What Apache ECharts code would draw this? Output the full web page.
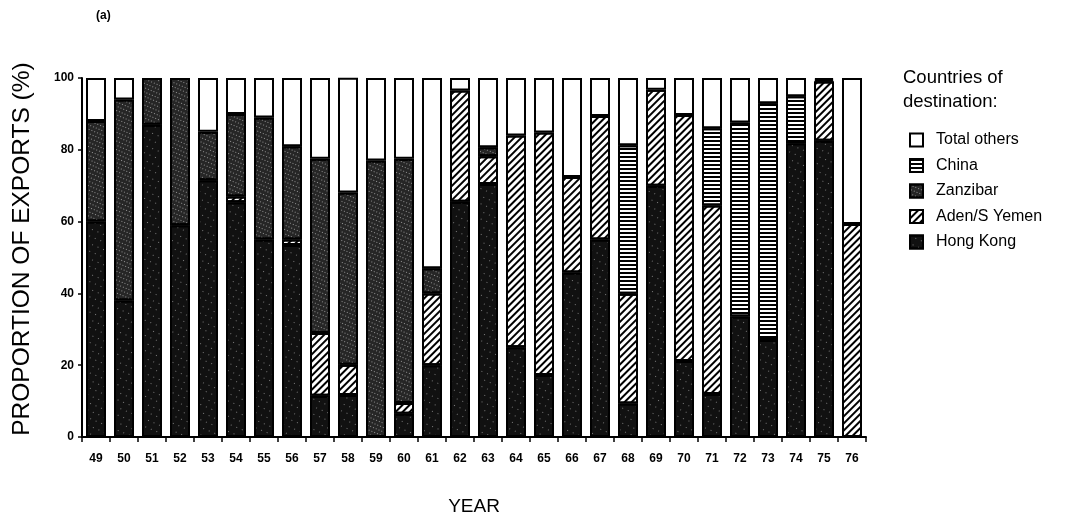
<!DOCTYPE html>
<html>
<head>
<meta charset="utf-8">
<script src="https://cdn.jsdelivr.net/npm/echarts@6/dist/echarts.min.js"></script>
<style>
html,body{margin:0;padding:0;background:#fff;}
#chart{width:1073px;height:526px;}
</style>
</head>
<body>
<div id="chart"></div>
<script>
var years = ['49','50','51','52','53','54','55','56','57','58','59','60','61','62','63','64','65','66','67','68','69','70','71','72','73','74','75','76'];
var hongKong = [60, 38, 87, 59, 71.5, 65.4, 55, 53.5, 11.5, 11.7, 0, 6.5, 20, 65.5, 70.5, 25, 17.3, 45.8, 55, 9.3, 70, 21.2, 12, 33.6, 27, 81.8, 82.5, 0];
var adenYemen = [0, 0, 0, 0, 0, 1.6, 0, 1.5, 17.5, 8.4, 0, 3, 20, 31, 7.7, 59, 67.5, 26.6, 34.4, 30.6, 26.7, 68.5, 52.5, 0, 0, 0, 16.5, 59.3];
var zanzibar = [28, 56, 13, 41, 13.5, 23, 34, 26, 48.5, 48, 77, 68, 7, 0, 2.5, 0, 0, 0, 0, 0, 0, 0, 0, 0, 0, 0, 0, 0];
var china = [0, 0, 0, 0, 0, 0, 0, 0, 0, 0, 0, 0, 0, 0, 0, 0, 0, 0, 0, 41.4, 0, 0, 21.5, 54, 66, 13.1, 0.5, 0];
var totalOthers = [12, 6, 0, 0, 15, 10, 11, 19, 22.5, 32, 23, 22.5, 53, 3.5, 19.3, 16, 15.2, 27.6, 10.6, 18.7, 3.3, 10.3, 14, 12.4, 7, 5.1, 0.5, 40.7];
var yTicks = [0, 20, 40, 60, 80, 100];
var legendOrder = ['Total others', 'China', 'Zanzibar', 'Aden/S Yemen', 'Hong Kong'];

var FONT = '"Liberation Sans", Arial, Helvetica, sans-serif';
function nz(arr){ return arr.map(function(v){ return v === 0 ? '-' : v; }); }
function mk(name, data, color, decal){
  var s = {
    name: name, type: 'bar', stack: 'total', data: nz(data),
    barWidth: 20,
    itemStyle: { color: color, borderColor: '#000', borderWidth: 2 }
  };
  if (decal) s.itemStyle.decal = decal;
  return s;
}
var chart = echarts.init(document.getElementById('chart'), null, {renderer: 'canvas'});
chart.setOption({
  animation: false,
  backgroundColor: '#fff',
  title: {
    text: 'Countries of\ndestination:',
    left: 898, top: 61,
    textStyle: { fontFamily: FONT, fontSize: 18.5, fontWeight: 'normal', color: '#000', lineHeight: 24 }
  },
  graphic: [{
    type: 'text', left: 96, top: 10,
    style: { text: '(a)', font: 'bold 12px ' + FONT, fill: '#000' }
  }, {
    type: 'text', x: 22, y: 249, rotation: Math.PI / 2,
    style: { text: 'PROPORTION OF EXPORTS (%)', font: '24.5px ' + FONT, fill: '#000', align: 'center', verticalAlign: 'middle' }
  }],
  legend: {
    orient: 'vertical', left: 904, top: 127, icon: 'rect',
    data: legendOrder,
    itemWidth: 13, itemHeight: 13, itemGap: 9.5,
    textStyle: { fontFamily: FONT, fontSize: 16, color: '#000', padding: [0,0,0,8] }
  },
  grid: { left: 82, right: 207, top: 78, bottom: 89, containLabel: false },
  xAxis: {
    type: 'category', data: years,
    name: 'YEAR', nameLocation: 'middle', nameGap: 60,
    nameTextStyle: { fontFamily: FONT, fontSize: 19, color: '#000' },
    axisLine: { lineStyle: { color: '#000', width: 2 } },
    axisTick: { show: true, length: 5, lineStyle: { color: '#000', width: 1.5 } },
    axisLabel: { fontFamily: FONT, fontSize: 12, fontWeight: 'bold', color: '#000', margin: 16, interval: 0 }
  },
  yAxis: {
    type: 'value', min: 0, max: 100, interval: 20,
    axisLine: { show: true, lineStyle: { color: '#000', width: 2 } },
    axisTick: { show: true, length: 4, lineStyle: { color: '#000', width: 1.5 } },
    axisLabel: { fontFamily: FONT, fontSize: 12, fontWeight: 'bold', color: '#000', margin: 8,
      formatter: function(v){ return yTicks.indexOf(v) >= 0 ? String(v) : ''; } },
    splitLine: { show: false }
  },
  series: [
    mk('Hong Kong', hongKong, '#111111', { symbol: 'rect', symbolSize: 1, dashArrayX: [1, 5], dashArrayY: [1, 6], color: 'rgba(190,190,190,0.6)', rotation: 0.4 }),
    mk('Aden/S Yemen', adenYemen, '#ffffff', { symbol: 'rect', symbolSize: 1, dashArrayX: [1, 0], dashArrayY: [1.8, 2.8], color: '#000', rotation: -Math.PI / 4 }),
    mk('Zanzibar', zanzibar, '#262626', { symbol: 'rect', symbolSize: 1, dashArrayX: [1, 2], dashArrayY: [1, 2.5], color: 'rgba(205,205,205,0.65)', rotation: 0.4 }),
    mk('China', china, '#ffffff', { symbol: 'rect', symbolSize: 1, dashArrayX: [1, 0], dashArrayY: [2, 2], color: '#000', rotation: 0 }),
    mk('Total others', totalOthers, '#ffffff', null)
  ]
});
</script>
</body>
</html>
